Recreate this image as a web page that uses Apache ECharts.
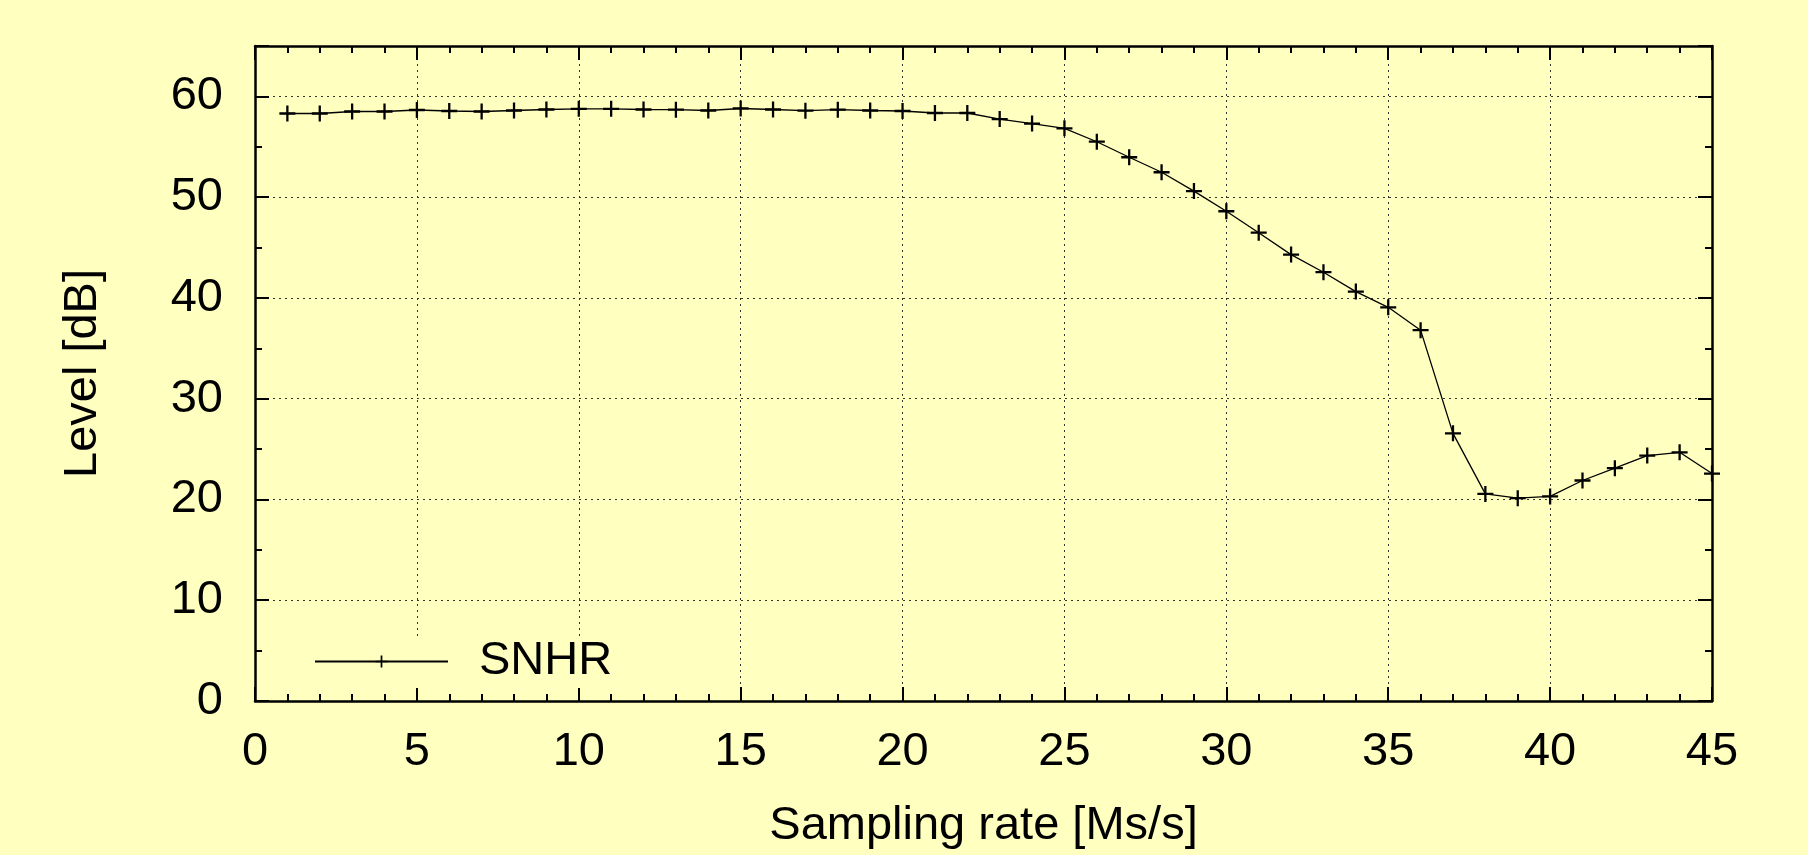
<!DOCTYPE html>
<html>
<head>
<meta charset="utf-8">
<script src="https://cdn.jsdelivr.net/npm/echarts@6/dist/echarts.min.js"></script>
<style>
html,body{margin:0;padding:0;background:#ffffc0;}
#chart{width:1808px;height:855px;}
</style>
</head>
<body>
<div id="chart"></div>
<script>
const seriesName = 'SNHR';
const xTitle = 'Sampling rate [Ms/s]';
const yTitle = 'Level [dB]';
const samplingRate = [1,2,3,4,5,6,7,8,9,10,11,12,13,14,15,16,17,18,19,20,21,22,23,24,25,26,27,28,29,30,31,32,33,34,35,36,37,38,39,40,41,42,43,44,45];
const levelDb = [58.3,58.3,58.5,58.5,58.65,58.55,58.5,58.6,58.7,58.77,
  58.77,58.7,58.68,58.6,58.8,58.7,58.58,58.68,58.6,58.55,
  58.35,58.35,57.75,57.3,56.83,55.5,53.96,52.47,50.6,48.6,
  46.47,44.3,42.55,40.63,39.07,36.8,26.56,20.55,20.13,20.3,
  21.88,23.1,24.36,24.68,22.57];

const data = samplingRate.map((x, i) => [x, levelDb[i]]);
const plus = 'path://M6,0H8V14H6Z M0,6H14V8H0Z';
const font = 'Liberation Sans, Arial, Helvetica, sans-serif';
const axisLine = {show: true, onZero: false, lineStyle: {color: '#000', width: 2.5}};
const tick = {show: true, inside: true, length: 14, lineStyle: {color: '#000', width: 2}};
const minor = (n) => ({show: true, splitNumber: n, length: 7, lineStyle: {color: '#000', width: 2}});

const chart = echarts.init(document.getElementById('chart'));
chart.setOption({
  backgroundColor: '#ffffc0',
  animation: false,
  textStyle: {fontFamily: font},
  grid: {left: 255, right: 96, top: 46, bottom: 152},
  legend: {
    left: 314, top: 638, padding: 0,
    itemWidth: 133, itemHeight: 15,
    textStyle: {fontSize: 47, color: '#000', fontFamily: font, padding: [0, 0, 0, 26]},
    data: [seriesName]
  },
  graphic: [{
    type: 'rect', z: 1,
    shape: {x: 266, y: 640, width: 334, height: 48},
    style: {fill: '#ffffc0'}
  }],
  xAxis: [{
    type: 'value', min: 0, max: 45, interval: 5, position: 'bottom',
    name: xTitle, nameLocation: 'middle', nameGap: 102,
    nameTextStyle: {fontSize: 47, color: '#000', fontFamily: font},
    axisLine: axisLine, axisTick: tick, minorTick: minor(5),
    axisLabel: {fontSize: 47, color: '#000', margin: 28, fontFamily: font},
    splitLine: {show: true, lineStyle: {color: '#333', width: 1, type: [2, 4]}}
  }, {
    type: 'value', min: 0, max: 45, interval: 5, position: 'top',
    axisLine: axisLine, axisTick: tick, minorTick: minor(5),
    axisLabel: {show: false}, splitLine: {show: false}
  }],
  yAxis: [{
    type: 'value', min: 0, max: 65, interval: 10, position: 'left',
    name: yTitle, nameLocation: 'middle', nameGap: 148, nameRotate: 90,
    nameTextStyle: {fontSize: 47, color: '#000', fontFamily: font},
    axisLine: axisLine, axisTick: tick, minorTick: minor(2),
    axisLabel: {fontSize: 47, color: '#000', margin: 32, fontFamily: font, showMaxLabel: false},
    splitLine: {show: true, lineStyle: {color: '#333', width: 1, type: [2, 4]}}
  }, {
    type: 'value', min: 0, max: 65, interval: 10, position: 'right',
    axisLine: axisLine, axisTick: tick, minorTick: minor(2),
    axisLabel: {show: false}, splitLine: {show: false}
  }],
  series: [{
    name: seriesName, type: 'line', data: data,
    xAxisIndex: 0, yAxisIndex: 0,
    symbol: plus, symbolSize: 16, clip: false,
    lineStyle: {color: '#000', width: 1.3},
    itemStyle: {color: '#000'},
    emphasis: {disabled: true}
  }]
});
</script>
</body>
</html>
